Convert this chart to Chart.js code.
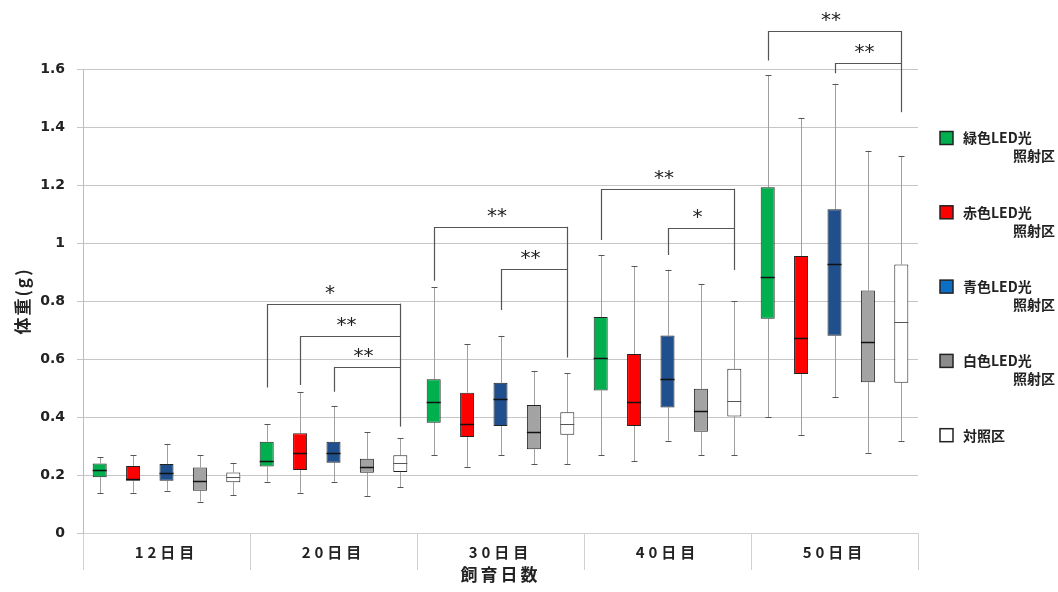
<!DOCTYPE html>
<html lang="ja">
<head>
<meta charset="utf-8">
<title>飼育日数と体重</title>
<script src="https://cdn.jsdelivr.net/npm/chart.js@4.4.1/dist/chart.umd.min.js"></script>
<style>
  html, body { margin: 0; padding: 0; background: #fff; }
  #wrap { width: 1058px; height: 592px; }
</style>
</head>
<body>
<div id="wrap"><canvas id="weightChart" width="1058" height="592"></canvas></div>
<script>
// 飼育日数
const days = ['12日目', '20日目', '30日目', '40日目', '50日目'];

// 体重 (g) : [最小, 第1四分位, 中央値, 第3四分位, 最大] per day
const greenLed = [
    [0.137, 0.192, 0.217, 0.240, 0.261],
    [0.177, 0.229, 0.248, 0.315, 0.376],
    [0.268, 0.380, 0.451, 0.530, 0.847],
    [0.268, 0.491, 0.605, 0.745, 0.959],
    [0.399, 0.739, 0.882, 1.192, 1.578]
];
const redLed = [
    [0.139, 0.180, 0.185, 0.231, 0.269],
    [0.139, 0.217, 0.277, 0.344, 0.486],
    [0.227, 0.331, 0.375, 0.484, 0.651],
    [0.247, 0.369, 0.453, 0.617, 0.920],
    [0.338, 0.548, 0.671, 0.955, 1.430]
];
const blueLed = [
    [0.146, 0.180, 0.208, 0.238, 0.307],
    [0.177, 0.242, 0.277, 0.315, 0.437],
    [0.268, 0.369, 0.462, 0.518, 0.680],
    [0.318, 0.433, 0.530, 0.681, 0.908],
    [0.468, 0.680, 0.929, 1.116, 1.549]
];
const whiteLed = [
    [0.108, 0.146, 0.180, 0.226, 0.269],
    [0.128, 0.208, 0.229, 0.256, 0.348],
    [0.238, 0.289, 0.349, 0.441, 0.559],
    [0.268, 0.349, 0.420, 0.497, 0.857],
    [0.277, 0.520, 0.660, 0.836, 1.318]
];
const control = [
    [0.130, 0.175, 0.194, 0.209, 0.240],
    [0.158, 0.210, 0.240, 0.268, 0.327],
    [0.238, 0.339, 0.375, 0.416, 0.551],
    [0.268, 0.402, 0.455, 0.566, 0.799],
    [0.318, 0.518, 0.726, 0.926, 1.299]
];

// 凡例
const seriesNames = [
    ['緑色LED光', '照射区'],
    ['赤色LED光', '照射区'],
    ['青色LED光', '照射区'],
    ['白色LED光', '照射区'],
    ['対照区']
];

// y axis tick labels
const yTickLabels = ['0', '0.2', '0.4', '0.6', '0.8', '1', '1.2', '1.4', '1.6'];

// significance brackets vs 対照区 (day index, series index, bracket top, leg end)
const sigDay = [1, 1, 1, 2, 2, 3, 3, 4, 4];
const sigFrom = [0, 1, 2, 0, 2, 0, 2, 0, 2];
const sigTop = [0.791, 0.681, 0.571, 1.056, 0.911, 1.187, 1.051, 1.731, 1.619];
const sigLegEnd = [0.502, 0.510, 0.487, 0.870, 0.769, 1.010, 0.959, 1.629, 1.585];
const sigMark = ['*', '**', '**', '**', '**', '**', '*', '**', '**'];
// where the 対照区 leg ends, per day
const controlLegEnd = [null, 0.367, 0.605, 0.907, 1.451];

const allSeries = [greenLed, redLed, blueLed, whiteLed, control];
const colors = ['#00b04f', '#ff0000', '#1f4f8c', '#a3a3a3', '#ffffff'];
const legendColors = ['#00b04f', '#ff0000', '#0b6fc6', '#8c8c8c', '#ffffff'];

const jpFont = '"Noto Sans CJK JP", "Noto Sans", sans-serif';

// draw a scale method with wider letter spacing
function spaceOut(scale, method, spacing) {
    const original = scale[method];
    scale[method] = function() {
        this.ctx.save();
        this.ctx.letterSpacing = spacing;
        original.apply(this, arguments);
        this.ctx.restore();
    };
}

const spacedAxisText = {
    id: 'spacedAxisText',
    beforeDraw(chart) {
        const { x, y } = chart.scales;
        if (x._spaced) return;
        spaceOut(x, 'drawLabels', '4px');
        spaceOut(x, 'drawTitle', '3px');
        spaceOut(y, 'drawTitle', '2px');
        x._spaced = true;
    }
};

// whiskers, medians, brackets and legend
const boxPlotParts = {
    id: 'boxPlotParts',
    beforeDatasetsDraw(chart) {
        const ctx = chart.ctx;
        const y = chart.scales.y;
        ctx.save();
        allSeries.forEach((stats, s) => {
            chart.getDatasetMeta(s).data.forEach((bar, d) => {
                const [lo, q1, , q3, hi] = stats[d];
                const x = Math.round(bar.x) + 0.5;
                ctx.strokeStyle = '#a0a0a0';
                ctx.lineWidth = 1;
                ctx.beginPath();
                ctx.moveTo(x, y.getPixelForValue(hi));
                ctx.lineTo(x, y.getPixelForValue(q3));
                ctx.moveTo(x, y.getPixelForValue(q1));
                ctx.lineTo(x, y.getPixelForValue(lo));
                ctx.stroke();
                ctx.strokeStyle = '#555';
                ctx.beginPath();
                [hi, lo].forEach(v => {
                    const py = Math.round(y.getPixelForValue(v)) + 0.5;
                    ctx.moveTo(x - 3, py);
                    ctx.lineTo(x + 3, py);
                });
                ctx.stroke();
            });
        });
        ctx.restore();
    },
    afterDatasetsDraw(chart) {
        const ctx = chart.ctx;
        const y = chart.scales.y;
        ctx.save();
        allSeries.forEach((stats, s) => {
            chart.getDatasetMeta(s).data.forEach((bar, d) => {
                const py = Math.round(y.getPixelForValue(stats[d][2])) + 0.5;
                ctx.strokeStyle = s === 4 ? '#555' : '#111';
                ctx.lineWidth = s === 4 ? 1 : 1.5;
                ctx.beginPath();
                ctx.moveTo(bar.x - bar.width / 2, py);
                ctx.lineTo(bar.x + bar.width / 2, py);
                ctx.stroke();
            });
        });
        ctx.restore();
    },
    afterDraw(chart) {
        const ctx = chart.ctx;
        const y = chart.scales.y;
        ctx.save();

        // brackets
        ctx.strokeStyle = '#555';
        ctx.lineWidth = 1.2;
        ctx.fillStyle = '#222';
        ctx.font = '20px "DejaVu Sans", sans-serif';
        ctx.textAlign = 'center';
        ctx.textBaseline = 'middle';
        sigDay.forEach((d, i) => {
            const xl = Math.round(chart.getDatasetMeta(sigFrom[i]).data[d].x) + 0.5;
            const xr = Math.round(chart.getDatasetMeta(4).data[d].x) + 0.5;
            const top = Math.round(y.getPixelForValue(sigTop[i])) + 0.5;
            ctx.beginPath();
            ctx.moveTo(xl, y.getPixelForValue(sigLegEnd[i]));
            ctx.lineTo(xl, top);
            ctx.lineTo(xr, top);
            ctx.stroke();
            ctx.fillText(sigMark[i], (xl + xr) / 2 - 4, top - 11);
        });
        controlLegEnd.forEach((end, d) => {
            if (end === null) return;
            const tops = sigTop.filter((t, i) => sigDay[i] === d);
            const xr = Math.round(chart.getDatasetMeta(4).data[d].x) + 0.5;
            ctx.beginPath();
            ctx.moveTo(xr, y.getPixelForValue(Math.max(...tops)));
            ctx.lineTo(xr, y.getPixelForValue(end));
            ctx.stroke();
        });

        // legend
        ctx.font = 'bold 14px ' + jpFont;
        ctx.textBaseline = 'middle';
        seriesNames.forEach((lines, i) => {
            const cy = 138 + i * 74.3;
            ctx.fillStyle = legendColors[i];
            ctx.fillRect(940, cy - 6.5, 13, 13);
            ctx.strokeStyle = '#222';
            ctx.lineWidth = 1.5;
            ctx.strokeRect(940, cy - 6.5, 13, 13);
            ctx.fillStyle = '#222';
            ctx.textAlign = 'left';
            ctx.fillText(lines[0], 963, cy);
            if (lines[1]) {
                ctx.textAlign = 'right';
                ctx.fillText(lines[1], 1055, cy + 18);
            }
        });
        ctx.restore();
    }
};

new Chart(document.getElementById('weightChart'), {
    type: 'bar',
    data: {
        labels: days,
        datasets: allSeries.map((stats, s) => ({
            label: seriesNames[s].join(''),
            data: stats.map(b => [b[1], b[3]]),
            backgroundColor: colors[s],
            borderColor: '#222',
            borderWidth: 1,
            borderSkipped: false,
            categoryPercentage: 1,
            barPercentage: 0.42
        }))
    },
    options: {
        responsive: false,
        animation: false,
        devicePixelRatio: 1,
        layout: {
            padding: { top: 69, right: 140, left: 0, bottom: 0 }
        },
        plugins: {
            legend: { display: false },
            tooltip: { enabled: false }
        },
        scales: {
            x: {
                offset: true,
                grid: {
                    offset: true,
                    drawOnChartArea: false,
                    tickLength: 37,
                    color: '#d0d0d0'
                },
                border: { color: '#d0d0d0' },
                ticks: {
                    padding: -27,
                    color: '#222',
                    maxRotation: 0,
                    font: { family: jpFont, size: 15, weight: 'bold' }
                },
                title: {
                    display: true,
                    text: '飼育日数',
                    color: '#222',
                    font: { family: jpFont, size: 17, weight: 'bold' },
                    padding: { top: 0, bottom: 7 }
                },
                afterFit: function(scale) {
                    scale.height = 59;
                }
            },
            y: {
                min: 0,
                max: 1.6,
                grid: {
                    color: '#c6c6c6',
                    tickLength: 6
                },
                border: { color: '#bdbdbd' },
                ticks: {
                    stepSize: 0.2,
                    padding: 12,
                    color: '#222',
                    font: { family: '"DejaVu Sans", sans-serif', size: 14, weight: 'bold' },
                    callback: function(value, index) {
                        return yTickLabels[index];
                    }
                },
                title: {
                    display: true,
                    text: '体重(g)',
                    color: '#222',
                    font: { family: jpFont, size: 17, weight: 'bold' },
                    padding: { top: 12 }
                },
                afterFit: function(scale) {
                    scale.width = 83;
                }
            }
        }
    },
    plugins: [spacedAxisText, boxPlotParts]
});
</script>
</body>
</html>
